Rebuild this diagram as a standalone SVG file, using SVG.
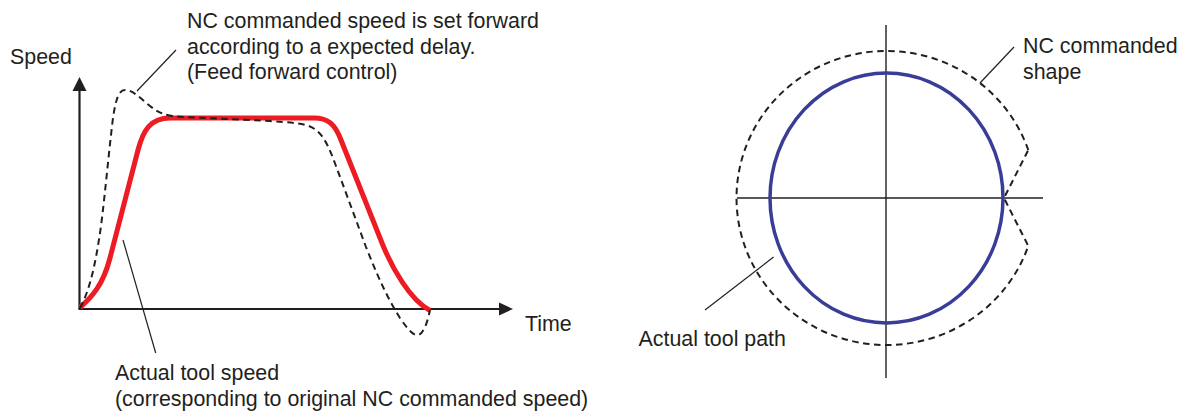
<svg xmlns="http://www.w3.org/2000/svg" width="1191" height="412" viewBox="0 0 1191 412">
<style>
  .t { font-family: "Liberation Sans", Arial, sans-serif; font-size: 21.4px; fill: #231f20; }
  .axis { stroke: #231f20; stroke-width: 2.2; fill: none; }
  .axis2 { stroke: #231f20; stroke-width: 1.4; fill: none; }
  .lead { stroke: #231f20; stroke-width: 1.2; fill: none; }
  .dash { stroke: #231f20; stroke-width: 2; stroke-dasharray: 6.5 4.5; fill: none; }
  .red { stroke: #ed1c24; stroke-width: 5; fill: none; stroke-linejoin: round; }
  .blue { stroke: #3a3d98; stroke-width: 3.5; fill: none; }
</style>
<rect width="1191" height="412" fill="#ffffff"/>

<g id="speed-chart">
  <g id="axes">
    <line class="axis" x1="79.5" y1="309" x2="79.5" y2="90"/>
    <polygon points="79.5,77 72.5,91 86.5,91" fill="#231f20"/>
    <line class="axis" x1="78.5" y1="309" x2="501" y2="309"/>
    <polygon points="513,309 499,302.5 499,315.5" fill="#231f20"/>
  </g>
  <g id="actual-speed-curve">
    <path class="red" d="M 80 307.5 C 92 297 103 285 110 258 L 138 150 C 143 131 150 118 170 118 L 314 118 C 328 118 335 124 341 140 L 382 243 C 392 268 410 300 430 310.5"/>
  </g>
  <g id="nc-speed-curve">
    <path class="dash" d="M 80 308 C 90 290 96 262 101 226 C 105 195 109 150 113 118 C 116 98 119 90 125 90 C 133 90 140 98 150 106 C 160 114 166 116 185 117 L 270 121 C 290 123 306 122 316 130 C 325 137 330 150 336 166 L 366 247 C 376 272 386 296 400 318 C 408 330 414 336 418 335 C 424 334 428 320 430 310"/>
  </g>
  <g id="label-speed"><text class="t" x="10" y="64">Speed</text></g>
  <g id="label-time"><text class="t" x="525" y="331">Time</text></g>
  <g id="label-ff">
    <text class="t" x="187" y="28">NC commanded speed is set forward</text>
    <text class="t" x="187" y="53.7">according to a expected delay.</text>
    <text class="t" x="187" y="79.4">(Feed forward control)</text>
  </g>
  <g id="label-actual-speed">
    <text class="t" x="115" y="380">Actual tool speed</text>
    <text class="t" x="115" y="406">(corresponding to original NC commanded speed)</text>
  </g>
</g>

<g id="path-chart">
  <g id="axes-2">
    <line class="axis2" x1="886" y1="25" x2="886" y2="378"/>
    <line class="axis2" x1="737" y1="198" x2="1043" y2="198"/>
  </g>
  <g id="actual-path">
    <ellipse class="blue" cx="886.5" cy="198" rx="116.5" ry="125"/>
  </g>
  <g id="nc-shape">
    <path class="dash" d="M 1028.3 150 A 150 147 0 1 0 1028.3 246 L 1004 198 Z"/>
  </g>
  <g id="label-nc-shape">
    <text class="t" x="1023" y="53">NC commanded</text>
    <text class="t" x="1023" y="79">shape</text>
  </g>
  <g id="label-tool-path">
    <text class="t" x="638.5" y="346">Actual tool path</text>
  </g>
</g>

<g id="connectors">
  <line class="lead" x1="137" y1="91" x2="176" y2="50"/>
  <line class="lead" x1="123" y1="240" x2="155.7" y2="353"/>
  <line class="lead" x1="980" y1="83" x2="1014" y2="47"/>
  <line class="lead" x1="773.6" y1="257" x2="705" y2="310"/>
</g>
</svg>
